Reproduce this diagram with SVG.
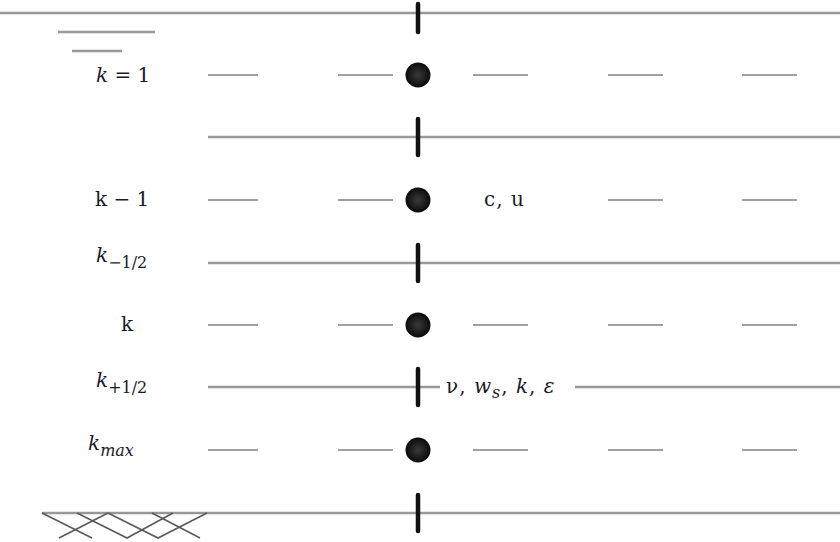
<svg xmlns="http://www.w3.org/2000/svg" width="840" height="542" viewBox="0 0 840 542">
  <style>
    .line { stroke: #989898; stroke-width: 2.4; fill: none; }
    .dash { stroke: #a0a0a0; stroke-width: 2.2; }
    .tick { stroke: #111; stroke-width: 4.5; stroke-linecap: round; }
    .hatch { stroke: #5a5a5a; stroke-width: 1.6; fill: none; }
    .lbl { font-family: "DejaVu Serif", "Liberation Serif", serif; font-size: 20px; fill: #1a1a2a; }
    .it { font-style: italic; }
    .sub { font-size: 16px; }
  </style>
  <defs>
    <radialGradient id="dotFill">
      <stop offset="0" stop-color="#3a3a3a"/>
      <stop offset="1" stop-color="#0a0a0a"/>
    </radialGradient>
  </defs>

  <!-- horizontal grid lines and dashed cell rows (connectors) -->
  <g id="connectors">
    <line class="line" x1="0" y1="13" x2="840" y2="13"/>
    <line class="line" x1="58" y1="32" x2="155" y2="32"/>
    <line class="line" x1="72" y1="51" x2="122" y2="51"/>
    <line class="line" x1="208" y1="137" x2="840" y2="137"/>
    <line class="line" x1="208" y1="263" x2="840" y2="263"/>
    <line class="line" x1="208" y1="387" x2="440" y2="387"/>
    <line class="line" x1="575" y1="387" x2="840" y2="387"/>
    <line class="line" x1="42" y1="513" x2="840" y2="513"/>

    <g transform="translate(0,75)">
      <line class="dash" x1="208" y1="0" x2="258" y2="0"/>
      <line class="dash" x1="338" y1="0" x2="393" y2="0"/>
      <line class="dash" x1="473" y1="0" x2="528" y2="0"/>
      <line class="dash" x1="608" y1="0" x2="663" y2="0"/>
      <line class="dash" x1="742" y1="0" x2="797" y2="0"/>
    </g>
    <g transform="translate(0,200)">
      <line class="dash" x1="208" y1="0" x2="258" y2="0"/>
      <line class="dash" x1="338" y1="0" x2="393" y2="0"/>
      <line class="dash" x1="608" y1="0" x2="663" y2="0"/>
      <line class="dash" x1="742" y1="0" x2="797" y2="0"/>
    </g>
    <g transform="translate(0,325)">
      <line class="dash" x1="208" y1="0" x2="258" y2="0"/>
      <line class="dash" x1="338" y1="0" x2="393" y2="0"/>
      <line class="dash" x1="473" y1="0" x2="528" y2="0"/>
      <line class="dash" x1="608" y1="0" x2="663" y2="0"/>
      <line class="dash" x1="742" y1="0" x2="797" y2="0"/>
    </g>
    <g transform="translate(0,450)">
      <line class="dash" x1="208" y1="0" x2="258" y2="0"/>
      <line class="dash" x1="338" y1="0" x2="393" y2="0"/>
      <line class="dash" x1="473" y1="0" x2="528" y2="0"/>
      <line class="dash" x1="608" y1="0" x2="663" y2="0"/>
      <line class="dash" x1="742" y1="0" x2="797" y2="0"/>
    </g>
  </g>

  <!-- bed hatching -->
  <g id="bed">
    <polyline class="hatch" points="42,513 92,538"/>
    <polyline class="hatch" points="108,513 59,538"/>
    <polyline class="hatch" points="77,513 127,538 173,513"/>
    <polyline class="hatch" points="108,513 158,538 207,513"/>
    <polyline class="hatch" points="152,513 200,538"/>
  </g>

  <!-- interface ticks -->
  <g id="ticks">
    <line class="tick" x1="418" y1="4" x2="418" y2="32"/>
    <line class="tick" x1="418" y1="119" x2="418" y2="155"/>
    <line class="tick" x1="418" y1="245" x2="418" y2="281"/>
    <line class="tick" x1="418" y1="369" x2="418" y2="405"/>
    <line class="tick" x1="418" y1="495" x2="418" y2="531"/>
  </g>

  <!-- cell-centre nodes -->
  <g id="node-1"><circle cx="418" cy="75" r="12.5" fill="url(#dotFill)"/></g>
  <g id="node-km1"><circle cx="418" cy="200" r="12.5" fill="url(#dotFill)"/></g>
  <g id="node-k"><circle cx="418" cy="325" r="12.5" fill="url(#dotFill)"/></g>
  <g id="node-kmax"><circle cx="418" cy="450" r="12.5" fill="url(#dotFill)"/></g>

  <!-- layer labels -->
  <g id="labels">
    <text class="lbl" x="96" y="82"><tspan class="it">k</tspan> = 1</text>
    <text class="lbl" x="95" y="206">k − 1</text>
    <text class="lbl" x="96" y="262"><tspan class="it">k</tspan><tspan class="sub" dy="6">−1/2</tspan></text>
    <text class="lbl" x="121" y="331">k</text>
    <text class="lbl" x="96" y="387"><tspan class="it">k</tspan><tspan class="sub" dy="6">+1/2</tspan></text>
    <text class="lbl" x="88" y="450"><tspan class="it">k</tspan><tspan class="sub it" dy="6">max</tspan></text>
    <text class="lbl" x="484" y="206" letter-spacing="1">c, u</text>
    <text class="lbl" x="446" y="393" letter-spacing="1">ν, <tspan class="it">w</tspan><tspan class="sub it" dy="5">s</tspan><tspan dy="-5">, </tspan><tspan class="it">k</tspan>, <tspan class="it">ε</tspan></text>
  </g>
</svg>
